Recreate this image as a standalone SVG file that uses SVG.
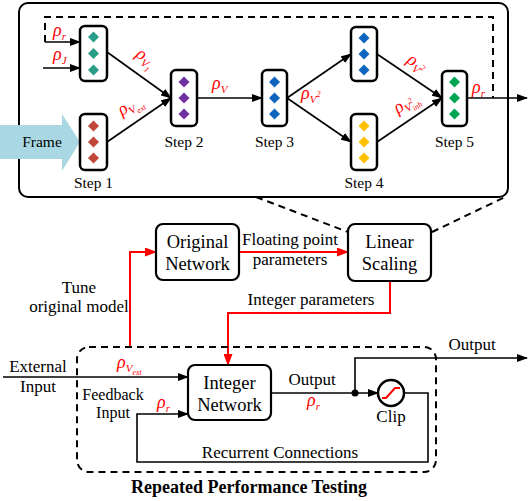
<svg xmlns="http://www.w3.org/2000/svg" width="529" height="501" viewBox="0 0 529 501">
<style>
text{font-family:"Liberation Serif","Times New Roman",serif;fill:#000}
.lbl{font-size:17px}
.step{font-size:15.5px;text-anchor:middle}
.box{font-size:18.5px;text-anchor:middle}
.rho{font-family:"Liberation Serif",serif;font-style:italic;fill:#ff0000;font-size:18px}
.sub{font-size:11px}
.ssub{font-size:8px}
.ln{fill:none;stroke:#000;stroke-width:1.6}
.red{fill:none;stroke:#ff0000;stroke-width:2}
.dash{fill:none;stroke:#000;stroke-width:2;stroke-dasharray:7 5}
.sbox{fill:#fff;stroke:#000;stroke-width:2.5}
.nbox{fill:#fff;stroke:#000;stroke-width:2.2}
</style>
<defs>
<marker id="ab" markerUnits="userSpaceOnUse" markerWidth="11" markerHeight="8" refX="10" refY="4" orient="auto"><path d="M0,0 L11,4 L0,8 Z" fill="#000"/></marker>
<marker id="ar" markerUnits="userSpaceOnUse" markerWidth="12" markerHeight="9" refX="11" refY="4.5" orient="auto"><path d="M0,0 L12,4.5 L0,9 Z" fill="#ff0000"/></marker>
<path id="dm" d="M0,-5.5 L5.5,0 L0,5.5 L-5.5,0 Z"/>
</defs>

<!-- outer frame of the pipeline -->
<rect x="19" y="3" width="489" height="194" rx="9" fill="#fff" stroke="#000" stroke-width="2"/>

<!-- frame arrow -->
<g id="frame">
<path d="M0,125 H62 V114 L80,142 L62,171 V159 H0 Z" fill="#a9d7e3"/>
<text x="42" y="147" text-anchor="middle" style="font-size:15.5px">Frame</text>
</g>

<g id="connectors">
<path class="dash" d="M45,42 V17 H493 V98"/>
<path class="ln" d="M45,42 H80" marker-end="url(#ab)"/>
<path class="ln" d="M43,68 H80" marker-end="url(#ab)"/>
<path class="ln" d="M107,52 L171,98" marker-end="url(#ab)"/>
<path class="ln" d="M107,142 L171,98" marker-end="url(#ab)"/>
<path class="ln" d="M197,98 H262" marker-end="url(#ab)"/>
<path class="ln" d="M287,98 L351,54" marker-end="url(#ab)"/>
<path class="ln" d="M287,98 L351,142" marker-end="url(#ab)"/>
<path class="ln" d="M377,54 L442,98" marker-end="url(#ab)"/>
<path class="ln" d="M377,142 L442,98" marker-end="url(#ab)"/>
<path class="ln" d="M467,98 H527" marker-end="url(#ab)"/>
<path class="dash" d="M256,197 L348,232"/>
<path class="dash" d="M432,232 L505,197"/>
<path class="red" d="M239,252 H348" marker-end="url(#ar)"/>
<path class="red" d="M390,281 V313 H228 V365" marker-end="url(#ar)"/>
<path class="red" d="M130,347 V252 H156" marker-end="url(#ar)"/>
<path class="ln" d="M3,377 H188" marker-end="url(#ab)"/>
<path class="ln" d="M405,393 H428 V462 H137 V414 H188" marker-end="url(#ab)"/>
<path class="ln" d="M271,393 H378" marker-end="url(#ab)"/>
<path class="ln" d="M355,393 V358 H527" marker-end="url(#ab)"/>
<circle cx="355" cy="393" r="3.5" fill="#000"/>
<rect class="dash" x="77" y="347" width="359" height="125" rx="12"/>
</g>

<!-- rho labels in pipeline -->
<text class="rho" x="53" y="36">ρ<tspan class="sub" dy="4">r</tspan></text>
<text class="rho" x="53" y="60">ρ<tspan class="sub" dy="4">J</tspan></text>
<text class="rho" transform="translate(135,56) rotate(35)">ρ<tspan class="sub" dy="4">V</tspan><tspan class="ssub" dy="3">1</tspan></text>
<text class="rho" transform="translate(122,116) rotate(-33)">ρ<tspan class="sub" dy="4">V</tspan><tspan class="ssub" dy="3">ext</tspan></text>
<text class="rho" x="212" y="89">ρ<tspan class="sub" dy="4">V</tspan></text>
<text class="rho" x="301" y="99">ρ<tspan class="sub" dy="4">V</tspan><tspan class="ssub" dy="-6">2</tspan></text>
<text class="rho" transform="translate(406,62) rotate(34)">ρ<tspan class="sub" dy="4">V</tspan><tspan class="ssub" dy="-6">2</tspan></text>
<text class="rho" transform="translate(398,114) rotate(-34)">ρ<tspan class="sub" dy="4">V</tspan><tspan class="ssub" dy="-6">2</tspan><tspan class="ssub" dx="-4" dy="9">inh</tspan></text>
<text class="rho" x="472" y="93">ρ<tspan class="sub" dy="4">r</tspan></text>

<g id="step1a">
<rect class="sbox" x="80" y="26" width="27" height="55" rx="5"/>
<g fill="#2a9d88"><use href="#dm" x="93.5" y="37"/><use href="#dm" x="93.5" y="53.5"/><use href="#dm" x="93.5" y="70"/></g>
</g>
<g id="step1b">
<rect class="sbox" x="80" y="114" width="27" height="56" rx="5"/>
<g fill="#c0473a"><use href="#dm" x="93.5" y="126"/><use href="#dm" x="93.5" y="142"/><use href="#dm" x="93.5" y="158"/></g>
<text class="step" x="93.5" y="188">Step 1</text>
</g>
<g id="step2">
<rect class="sbox" x="171" y="70" width="26" height="56" rx="5"/>
<g fill="#7030a0"><use href="#dm" x="184" y="82"/><use href="#dm" x="184" y="98"/><use href="#dm" x="184" y="114"/></g>
<text class="step" x="184" y="147">Step 2</text>
</g>
<g id="step3">
<rect class="sbox" x="262" y="70" width="25" height="56" rx="5"/>
<g fill="#0e64bf"><use href="#dm" x="274.5" y="82"/><use href="#dm" x="274.5" y="98"/><use href="#dm" x="274.5" y="114"/></g>
<text class="step" x="274.5" y="147">Step 3</text>
</g>
<g id="step4a">
<rect class="sbox" x="351" y="27" width="26" height="54" rx="5"/>
<g fill="#0e64bf"><use href="#dm" x="364" y="38"/><use href="#dm" x="364" y="54"/><use href="#dm" x="364" y="70"/></g>
</g>
<g id="step4b">
<rect class="sbox" x="351" y="114" width="26" height="56" rx="5"/>
<g fill="#ffc000"><use href="#dm" x="364" y="126"/><use href="#dm" x="364" y="142"/><use href="#dm" x="364" y="158"/></g>
<text class="step" x="364" y="188">Step 4</text>
</g>
<g id="step5">
<rect class="sbox" x="442" y="71" width="25" height="55" rx="5"/>
<g fill="#00a651"><use href="#dm" x="454.5" y="82"/><use href="#dm" x="454.5" y="98"/><use href="#dm" x="454.5" y="114"/></g>
<text class="step" x="454.5" y="147">Step 5</text>
</g>

<g id="original">
<rect class="nbox" x="156" y="224" width="83" height="56" rx="7"/>
<text class="box" x="197.5" y="248">Original</text>
<text class="box" x="197.5" y="270">Network</text>
</g>
<g id="linear">
<rect class="nbox" x="348" y="224" width="83" height="57" rx="7"/>
<text class="box" x="389.5" y="248">Linear</text>
<text class="box" x="389.5" y="270">Scaling</text>
</g>
<g id="integer">
<rect class="nbox" x="188" y="365" width="83" height="55" rx="7"/>
<text class="box" x="229.5" y="389">Integer</text>
<text class="box" x="229.5" y="411">Network</text>
</g>
<g id="clip">
<circle cx="391" cy="393" r="13" fill="#fff" stroke="#000" stroke-width="2.5"/>
<path d="M382,398 H386 L395,388 H400" fill="none" stroke="#ff0000" stroke-width="2"/>
<text class="lbl" x="391" y="422" text-anchor="middle">Clip</text>
</g>

<!-- labels -->
<text class="lbl" x="290" y="245" text-anchor="middle">Floating point</text>
<text class="lbl" x="290" y="265" text-anchor="middle">parameters</text>
<text class="lbl" x="311" y="305" text-anchor="middle">Integer parameters</text>
<text class="lbl" x="79" y="293" text-anchor="middle">Tune</text>
<text class="lbl" x="79" y="312" text-anchor="middle">original model</text>
<text class="lbl" x="38" y="372" text-anchor="middle">External</text>
<text class="lbl" x="38" y="392" text-anchor="middle">Input</text>
<text class="rho" x="117" y="368">ρ<tspan class="sub" dy="4">V</tspan><tspan class="ssub" dy="3">ext</tspan></text>
<text x="113" y="400" text-anchor="middle" style="font-size:16px">Feedback</text>
<text x="113" y="418" text-anchor="middle" style="font-size:16px">Input</text>
<text class="rho" x="157" y="408">ρ<tspan class="sub" dy="4">r</tspan></text>
<text class="lbl" x="312" y="385" text-anchor="middle">Output</text>
<text class="rho" x="307" y="406">ρ<tspan class="sub" dy="4">r</tspan></text>
<text class="lbl" x="472" y="350" text-anchor="middle">Output</text>
<text class="lbl" x="280" y="458" text-anchor="middle">Recurrent Connections</text>
<text x="249" y="493" text-anchor="middle" style="font-size:18px;font-weight:bold">Repeated Performance Testing</text>
</svg>
